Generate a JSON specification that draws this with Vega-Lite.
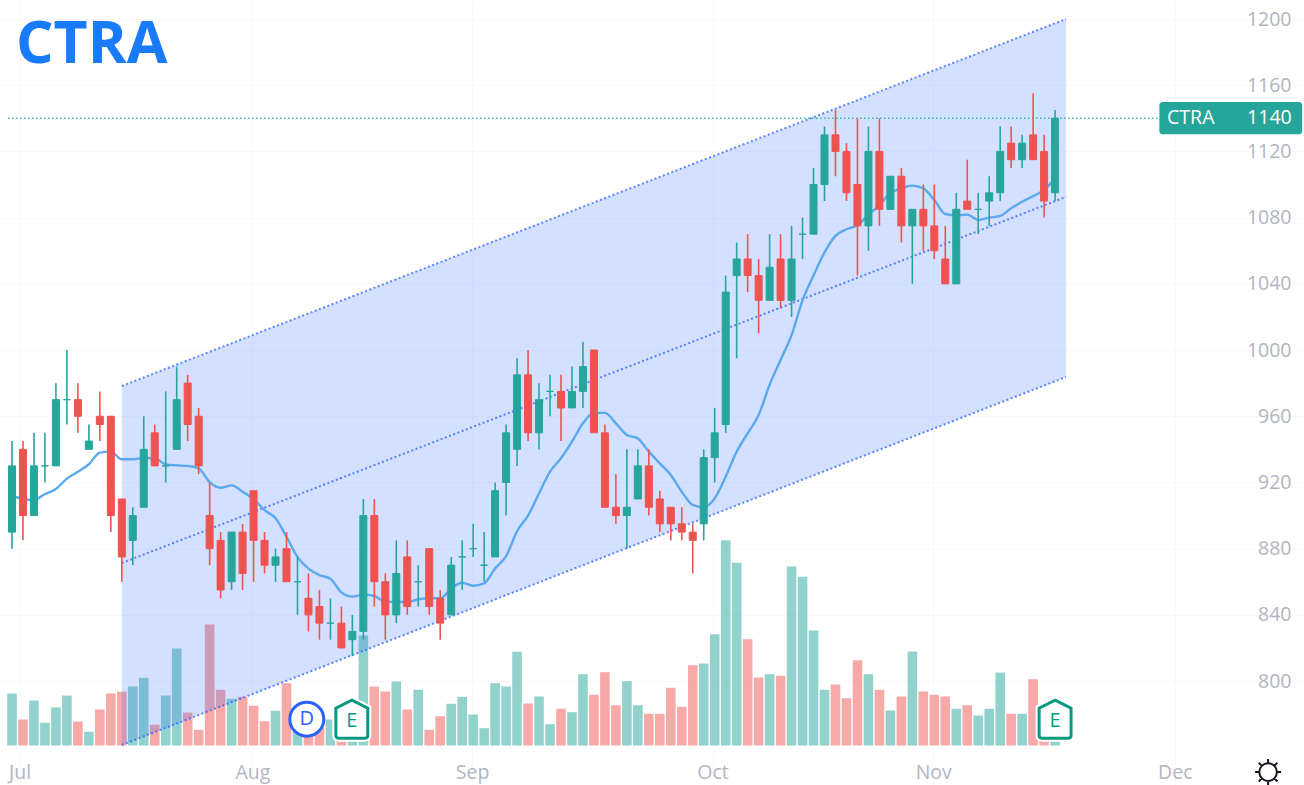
{
"$schema":"https://vega.github.io/schema/vega-lite/v6.json",
"autosize":{"type":"none"},
"width":1304,"height":785,"padding":{"left":0,"right":0,"top":0,"bottom":0},"background":"white",
"config":{"view":{"stroke":null}},
"datasets":{
"candles":[
{"t":0,"open":890,"high":945,"low":880,"close":930,"volume":52,"ma":912,"dir":"up"},
{"t":1,"open":940,"high":945,"low":885,"close":900,"volume":26,"ma":910,"dir":"down"},
{"t":2,"open":900,"high":950,"low":900,"close":930,"volume":45,"ma":909.4,"dir":"up"},
{"t":3,"open":930,"high":950,"low":920,"close":930,"volume":22.7,"ma":913,"dir":"up"},
{"t":4,"open":930,"high":980,"low":930,"close":970,"volume":38,"ma":916,"dir":"up"},
{"t":5,"open":970,"high":1000,"low":955,"close":970,"volume":50,"ma":922.3,"dir":"up"},
{"t":6,"open":970,"high":980,"low":950,"close":960,"volume":24,"ma":926.5,"dir":"down"},
{"t":7,"open":940,"high":955,"low":940,"close":945,"volume":13.7,"ma":931,"dir":"up"},
{"t":8,"open":960,"high":975,"low":945,"close":955,"volume":36,"ma":938,"dir":"down"},
{"t":9,"open":960,"high":960,"low":890,"close":900,"volume":52,"ma":938.6,"dir":"down"},
{"t":10,"open":910,"high":910,"low":860,"close":875,"volume":53.7,"ma":934,"dir":"down"},
{"t":11,"open":885,"high":905,"low":870,"close":900,"volume":59,"ma":934,"dir":"up"},
{"t":12,"open":905,"high":960,"low":905,"close":940,"volume":67.7,"ma":934.8,"dir":"up"},
{"t":13,"open":950,"high":955,"low":930,"close":930,"volume":20.7,"ma":934.6,"dir":"down"},
{"t":14,"open":930,"high":975,"low":920,"close":930,"volume":50,"ma":930.9,"dir":"up"},
{"t":15,"open":940,"high":990,"low":940,"close":970,"volume":97,"ma":930.3,"dir":"up"},
{"t":16,"open":980,"high":985,"low":945,"close":955,"volume":33,"ma":930,"dir":"down"},
{"t":17,"open":960,"high":965,"low":925,"close":930,"volume":15.7,"ma":928.5,"dir":"down"},
{"t":18,"open":900,"high":920,"low":870,"close":880,"volume":121,"ma":920.2,"dir":"down"},
{"t":19,"open":885,"high":890,"low":850,"close":855,"volume":55.7,"ma":916.8,"dir":"down"},
{"t":20,"open":860,"high":890,"low":855,"close":890,"volume":46.7,"ma":918.2,"dir":"up"},
{"t":21,"open":890,"high":895,"low":855,"close":865,"volume":48.7,"ma":914.4,"dir":"down"},
{"t":22,"open":915,"high":915,"low":860,"close":885,"volume":39.7,"ma":910,"dir":"down"},
{"t":23,"open":885,"high":890,"low":865,"close":870,"volume":24.3,"ma":903.3,"dir":"down"},
{"t":24,"open":870,"high":880,"low":860,"close":875,"volume":34.7,"ma":898.3,"dir":"up"},
{"t":25,"open":880,"high":890,"low":860,"close":860,"volume":62.3,"ma":887.2,"dir":"down"},
{"t":26,"open":860,"high":875,"low":840,"close":860,"volume":15,"ma":875,"dir":"up"},
{"t":27,"open":850,"high":865,"low":830,"close":840,"volume":12,"ma":867.9,"dir":"down"},
{"t":28,"open":845,"high":855,"low":825,"close":835,"volume":18,"ma":864,"dir":"down"},
{"t":29,"open":835,"high":850,"low":825,"close":835,"volume":26,"ma":861.8,"dir":"up"},
{"t":30,"open":835,"high":845,"low":820,"close":820,"volume":10,"ma":853.6,"dir":"down"},
{"t":31,"open":825,"high":840,"low":815,"close":830,"volume":10,"ma":851,"dir":"up"},
{"t":32,"open":830,"high":910,"low":825,"close":900,"volume":110,"ma":852.2,"dir":"up"},
{"t":33,"open":900,"high":910,"low":845,"close":860,"volume":59,"ma":851.4,"dir":"down"},
{"t":34,"open":860,"high":865,"low":825,"close":840,"volume":54,"ma":848,"dir":"down"},
{"t":35,"open":840,"high":885,"low":835,"close":865,"volume":64,"ma":847.8,"dir":"up"},
{"t":36,"open":875,"high":885,"low":840,"close":845,"volume":36,"ma":847.8,"dir":"down"},
{"t":37,"open":860,"high":870,"low":845,"close":860,"volume":55.7,"ma":849.4,"dir":"up"},
{"t":38,"open":880,"high":880,"low":840,"close":845,"volume":15.7,"ma":850,"dir":"down"},
{"t":39,"open":850,"high":855,"low":825,"close":835,"volume":29.3,"ma":850,"dir":"down"},
{"t":40,"open":840,"high":875,"low":840,"close":870,"volume":41.7,"ma":856,"dir":"up"},
{"t":41,"open":875,"high":885,"low":855,"close":875,"volume":48.7,"ma":859.4,"dir":"up"},
{"t":42,"open":880,"high":895,"low":875,"close":880,"volume":31,"ma":857.6,"dir":"up"},
{"t":43,"open":870,"high":890,"low":860,"close":870,"volume":17.3,"ma":859,"dir":"up"},
{"t":44,"open":875,"high":920,"low":875,"close":915,"volume":62.3,"ma":868,"dir":"up"},
{"t":45,"open":920,"high":955,"low":900,"close":950,"volume":59,"ma":875.5,"dir":"up"},
{"t":46,"open":940,"high":995,"low":930,"close":985,"volume":93.7,"ma":890.5,"dir":"up"},
{"t":47,"open":985,"high":1000,"low":945,"close":950,"volume":42,"ma":900,"dir":"down"},
{"t":48,"open":950,"high":980,"low":940,"close":970,"volume":49,"ma":913.4,"dir":"up"},
{"t":49,"open":975,"high":985,"low":960,"close":975,"volume":21.3,"ma":926.5,"dir":"up"},
{"t":50,"open":975,"high":985,"low":945,"close":965,"volume":36.7,"ma":934.6,"dir":"down"},
{"t":51,"open":965,"high":990,"low":965,"close":975,"volume":33.3,"ma":944.6,"dir":"up"},
{"t":52,"open":975,"high":1005,"low":965,"close":990,"volume":71.3,"ma":955.7,"dir":"up"},
{"t":53,"open":1000,"high":1000,"low":950,"close":950,"volume":50.7,"ma":962,"dir":"down"},
{"t":54,"open":950,"high":955,"low":905,"close":905,"volume":73.3,"ma":962,"dir":"down"},
{"t":55,"open":905,"high":925,"low":895,"close":900,"volume":40.3,"ma":955.7,"dir":"down"},
{"t":56,"open":900,"high":940,"low":880,"close":905,"volume":64.3,"ma":948.7,"dir":"up"},
{"t":57,"open":910,"high":940,"low":910,"close":930,"volume":40.3,"ma":946.6,"dir":"up"},
{"t":58,"open":930,"high":940,"low":900,"close":905,"volume":31.7,"ma":938.6,"dir":"down"},
{"t":59,"open":910,"high":915,"low":890,"close":895,"volume":31.7,"ma":931.5,"dir":"down"},
{"t":60,"open":905,"high":905,"low":885,"close":895,"volume":57.7,"ma":924.5,"dir":"down"},
{"t":61,"open":895,"high":905,"low":885,"close":890,"volume":38.7,"ma":914.4,"dir":"down"},
{"t":62,"open":890,"high":895,"low":865,"close":885,"volume":80.3,"ma":906.4,"dir":"down"},
{"t":63,"open":895,"high":940,"low":885,"close":935,"volume":82,"ma":905,"dir":"up"},
{"t":64,"open":935,"high":965,"low":920,"close":950,"volume":111.3,"ma":910.4,"dir":"up"},
{"t":65,"open":955,"high":1045,"low":950,"close":1035,"volume":205.3,"ma":923.5,"dir":"up"},
{"t":66,"open":1045,"high":1065,"low":995,"close":1055,"volume":182.7,"ma":938.6,"dir":"up"},
{"t":67,"open":1055,"high":1070,"low":1035,"close":1045,"volume":106.3,"ma":949.7,"dir":"down"},
{"t":68,"open":1045,"high":1055,"low":1010,"close":1030,"volume":68,"ma":960.7,"dir":"down"},
{"t":69,"open":1030,"high":1070,"low":1030,"close":1050,"volume":71.3,"ma":979,"dir":"up"},
{"t":70,"open":1055,"high":1070,"low":1025,"close":1030,"volume":69.7,"ma":994,"dir":"down"},
{"t":71,"open":1030,"high":1075,"low":1020,"close":1055,"volume":179,"ma":1009,"dir":"up"},
{"t":72,"open":1070,"high":1080,"low":1055,"close":1070,"volume":168.7,"ma":1030,"dir":"up"},
{"t":73,"open":1070,"high":1110,"low":1070,"close":1100,"volume":115,"ma":1045,"dir":"up"},
{"t":74,"open":1100,"high":1135,"low":1090,"close":1130,"volume":55.7,"ma":1059,"dir":"up"},
{"t":75,"open":1130,"high":1145,"low":1105,"close":1120,"volume":61,"ma":1069,"dir":"down"},
{"t":76,"open":1120,"high":1125,"low":1090,"close":1095,"volume":47.3,"ma":1073,"dir":"down"},
{"t":77,"open":1100,"high":1140,"low":1045,"close":1075,"volume":85.3,"ma":1075.5,"dir":"down"},
{"t":78,"open":1075,"high":1135,"low":1060,"close":1120,"volume":71.3,"ma":1081.6,"dir":"up"},
{"t":79,"open":1120,"high":1140,"low":1075,"close":1085,"volume":55.7,"ma":1087.6,"dir":"down"},
{"t":80,"open":1085,"high":1105,"low":1085,"close":1105,"volume":35,"ma":1094.7,"dir":"up"},
{"t":81,"open":1105,"high":1110,"low":1065,"close":1075,"volume":49,"ma":1097.7,"dir":"down"},
{"t":82,"open":1075,"high":1085,"low":1040,"close":1085,"volume":94,"ma":1099.3,"dir":"up"},
{"t":83,"open":1085,"high":1100,"low":1060,"close":1075,"volume":54,"ma":1097.7,"dir":"down"},
{"t":84,"open":1075,"high":1100,"low":1055,"close":1060,"volume":50.7,"ma":1090.6,"dir":"down"},
{"t":85,"open":1055,"high":1075,"low":1040,"close":1040,"volume":49,"ma":1082.2,"dir":"down"},
{"t":86,"open":1040,"high":1095,"low":1040,"close":1085,"volume":36.7,"ma":1081.4,"dir":"up"},
{"t":87,"open":1090,"high":1115,"low":1085,"close":1085,"volume":40.3,"ma":1081.8,"dir":"down"},
{"t":88,"open":1085,"high":1095,"low":1070,"close":1085,"volume":30,"ma":1078.6,"dir":"up"},
{"t":89,"open":1090,"high":1105,"low":1075,"close":1095,"volume":36.7,"ma":1080,"dir":"up"},
{"t":90,"open":1095,"high":1135,"low":1090,"close":1120,"volume":73,"ma":1081,"dir":"up"},
{"t":91,"open":1125,"high":1135,"low":1110,"close":1115,"volume":31.7,"ma":1085.6,"dir":"down"},
{"t":92,"open":1115,"high":1130,"low":1110,"close":1125,"volume":31.7,"ma":1089.6,"dir":"up"},
{"t":93,"open":1130,"high":1155,"low":1115,"close":1115,"volume":66.3,"ma":1093,"dir":"down"},
{"t":94,"open":1120,"high":1130,"low":1080,"close":1090,"volume":9,"ma":1096.7,"dir":"down"},
{"t":95,"open":1095,"high":1145,"low":1090,"close":1140,"volume":8,"ma":1104,"dir":"up"}
],
"channel":[
{"t":10,"upper":978.3,"middle":871.3,"lower":761.4},
{"t":96,"upper":1200,"middle":1092.5,"lower":983.7}
],
"lastPrice":[{"t":-0.36,"price":1140},{"t":104.6,"price":1140}],
"priceTag":[{"t":104.5,"to":117.5,"top":1149.8,"bottom":1130.4}],
"tagText":[
{"t":105.2,"price":1140,"label":"CTRA","align":"left"},
{"t":116.55,"price":1140,"label":"1140","align":"right"}
],
"title":[{"t":0.36,"price":1184.3,"label":"CTRA"}],
"dividends":[{"t":26.85,"price":777,"label":"D"}],
"earnings":[{"t":30.95,"price":777,"label":"E"},{"t":95,"price":777,"label":"E"}],
"gear":[{"t":114.4,"price":745}]
},
"resolve":{"scale":{"y":"independent"}},
"encoding":{"x":{"field":"t","type":"quantitative","scale":{"domain":[-1.0929,117.67],"nice":false,"zero":false,"padding":0},"axis":{"values":[0.7,21.9,41.9,63.8,83.9,105.9],"orient":"bottom","title":null,"domain":false,"ticks":false,"tickSize":0,"labelPadding":-13,"labelBaseline":"middle","labelFontSize":19.5,"labelFont":"Open Sans","labelColor":"#b2b5be","labelOverlap":false,"labelBound":false,"labelFlush":false,"grid":true,"gridColor":"#f8f9fb","labelExpr":"datum.value<5?'Jul':datum.value<30?'Aug':datum.value<50?'Sep':datum.value<70?'Oct':datum.value<90?'Nov':'Dec'"}}},
"layer":[
{"data":{"name":"candles"},
 "mark":{"type":"bar","width":9.6,"opacity":0.5},
 "encoding":{
  "y":{"field":"volume","type":"quantitative","stack":null,"scale":{"domain":[-39.5,745.5],"nice":false,"zero":false},"axis":null},
  "color":{"field":"dir","type":"nominal","scale":{"domain":["up","down"],"range":["#26a69a","#ef5350"]},"legend":null}}},
{"layer":[
 {"data":{"name":"channel"},
  "mark":{"type":"area","color":"#2962ff","opacity":0.2},
  "encoding":{
   "y":{"field":"upper","type":"quantitative","scale":{"domain":[737.2,1211.48],"nice":false,"zero":false},"axis":{"values":[800,840,880,920,960,1000,1040,1080,1120,1160,1200],"format":"d","orient":"right","title":null,"domain":false,"ticks":false,"tickSize":0,"labelPadding":-13,"labelAlign":"right","labelFontSize":19.5,"labelFont":"Open Sans","labelColor":"#b2b5be","labelOverlap":false,"labelBound":false,"labelFlush":false,"grid":true,"gridColor":"#f8f9fb"}},
   "y2":{"field":"lower"}}},
 {"data":{"name":"channel"},
  "mark":{"type":"line","color":"#2962ff","strokeWidth":2,"strokeDash":[2,2.5],"opacity":0.75},
  "encoding":{"y":{"field":"upper","type":"quantitative"}}},
 {"data":{"name":"channel"},
  "mark":{"type":"line","color":"#2962ff","strokeWidth":2,"strokeDash":[2,2.5],"opacity":0.75},
  "encoding":{"y":{"field":"middle","type":"quantitative"}}},
 {"data":{"name":"channel"},
  "mark":{"type":"line","color":"#2962ff","strokeWidth":2,"strokeDash":[2,2.5],"opacity":0.75},
  "encoding":{"y":{"field":"lower","type":"quantitative"}}},
 {"data":{"name":"lastPrice"},
  "mark":{"type":"line","color":"#26a69a","strokeWidth":1.6,"strokeDash":[1.5,2.5],"opacity":0.85},
  "encoding":{"y":{"field":"price","type":"quantitative"}}},
 {"data":{"name":"candles"},
  "mark":{"type":"line","color":"#5aa9f0","strokeWidth":2.4,"interpolate":"monotone"},
  "encoding":{"y":{"field":"ma","type":"quantitative"}}},
 {"data":{"name":"candles"},
  "mark":{"type":"rule","strokeWidth":1.6},
  "encoding":{
   "y":{"field":"low","type":"quantitative"},"y2":{"field":"high"},
   "color":{"field":"dir","type":"nominal","scale":{"domain":["up","down"],"range":["#26a69a","#ef5350"]},"legend":null}}},
 {"data":{"name":"candles"},
  "mark":{"type":"bar","width":7,"strokeWidth":1},
  "encoding":{
   "y":{"field":"open","type":"quantitative"},"y2":{"field":"close"},
   "color":{"field":"dir","type":"nominal","scale":{"domain":["up","down"],"range":["#26a69a","#ef5350"]},"legend":null},
   "stroke":{"field":"dir","type":"nominal","scale":{"domain":["up","down"],"range":["#26a69a","#ef5350"]},"legend":null}}},
 {"data":{"name":"dividends"},
  "mark":{"type":"point","shape":"circle","size":1156,"filled":false,"fill":"white","fillOpacity":1,"stroke":"#2962ff","strokeWidth":3,"opacity":1},
  "encoding":{"y":{"field":"price","type":"quantitative"}}},
 {"data":{"name":"dividends"},
  "mark":{"type":"text","color":"#2962ff","fontSize":20,"font":"Open Sans","align":"center","baseline":"middle"},
  "encoding":{"y":{"field":"price","type":"quantitative"},"text":{"field":"label"}}},
 {"data":{"name":"earnings"},
  "mark":{"type":"point","shape":"M0,-1 L0.84,-0.58 L0.84,0.85 Q0.84,1 0.7,1 L-0.7,1 Q-0.84,1 -0.84,0.85 L-0.84,-0.58 Z","size":1444,"filled":false,"fill":"white","fillOpacity":1,"stroke":"white","strokeWidth":7,"opacity":1},
  "encoding":{"y":{"field":"price","type":"quantitative"}}},
 {"data":{"name":"earnings"},
  "mark":{"type":"point","shape":"M0,-1 L0.84,-0.58 L0.84,0.85 Q0.84,1 0.7,1 L-0.7,1 Q-0.84,1 -0.84,0.85 L-0.84,-0.58 Z","size":1444,"filled":false,"fill":"white","fillOpacity":1,"stroke":"#089981","strokeWidth":3,"opacity":1},
  "encoding":{"y":{"field":"price","type":"quantitative"}}},
 {"data":{"name":"earnings"},
  "mark":{"type":"text","color":"#089981","fontSize":20,"font":"Open Sans","align":"center","baseline":"middle","dy":2},
  "encoding":{"y":{"field":"price","type":"quantitative"},"text":{"field":"label"}}},
 {"data":{"name":"priceTag"},
  "mark":{"type":"rect","color":"#26a69a","cornerRadius":3},
  "encoding":{
   "x2":{"field":"to"},
   "y":{"field":"top","type":"quantitative"},"y2":{"field":"bottom"}}},
 {"data":{"name":"tagText"},"transform":[{"filter":"datum.align==='left'"}],
  "mark":{"type":"text","color":"white","fontSize":19.5,"font":"Open Sans","align":"left","baseline":"middle"},
  "encoding":{"y":{"field":"price","type":"quantitative"},"text":{"field":"label"}}},
 {"data":{"name":"tagText"},"transform":[{"filter":"datum.align==='right'"}],
  "mark":{"type":"text","color":"white","fontSize":19.5,"font":"Open Sans","align":"right","baseline":"middle"},
  "encoding":{"y":{"field":"price","type":"quantitative"},"text":{"field":"label"}}},
 {"data":{"name":"title"},
  "mark":{"type":"text","color":"#1a7bfa","fontSize":59,"font":"Open Sans","fontWeight":"bold","align":"left","baseline":"middle"},
  "encoding":{"y":{"field":"price","type":"quantitative"},"text":{"field":"label"}}},
 {"data":{"name":"gear"},
  "mark":{"type":"point","shape":"M0.68,0 A0.68,0.68 0 1 1 -0.68,0 A0.68,0.68 0 1 1 0.68,0 Z M0,-1 L0,-0.68 M0,1 L0,0.68 M-1,0 L-0.68,0 M1,0 L0.68,0 M-0.72,-0.72 L-0.48,-0.48 M0.72,0.72 L0.48,0.48 M-0.72,0.72 L-0.48,0.48 M0.72,-0.72 L0.48,-0.48","size":676,"filled":false,"stroke":"#131722","strokeWidth":2,"opacity":1},
  "encoding":{"y":{"field":"price","type":"quantitative"}}}
]}
]}
